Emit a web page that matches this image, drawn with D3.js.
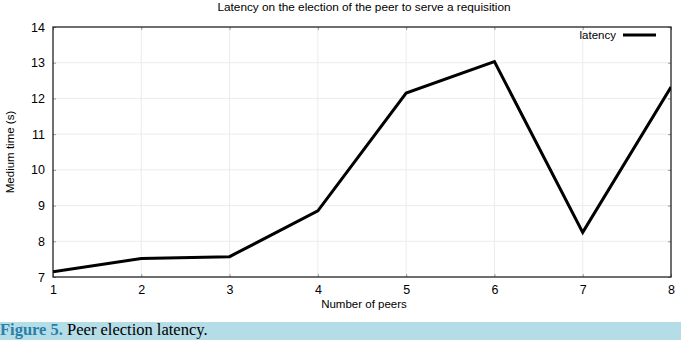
<!DOCTYPE html>
<html>
<head>
<meta charset="utf-8">
<script src="https://cdn.jsdelivr.net/npm/d3@7"></script>
<style>
  body { margin: 0; background: #fff; }
  svg { display: block; }
  .tick text { font-family: "Liberation Sans", Arial, sans-serif; font-size: 12.5px; fill: #000; }
</style>
</head>
<body>
<div id="chart"></div>
<script>
const peers = [1, 2, 3, 4, 5, 6, 7, 8];
const latency = [7.15, 7.52, 7.57, 8.85, 12.15, 13.03, 8.25, 12.32];
const yTicks = [7, 8, 9, 10, 11, 12, 13, 14];

const width = 681, height = 340;
const margin = {top: 27, right: 10, bottom: 63, left: 53};

const svg = d3.select("#chart").append("svg")
    .attr("width", width)
    .attr("height", height);

const x = d3.scaleLinear().domain([1, 8]).range([margin.left, width - margin.right]);
const y = d3.scaleLinear().domain([7, 14]).range([height - margin.bottom, margin.top]);

// title
svg.append("text")
    .attr("x", 364)
    .attr("y", 11)
    .attr("text-anchor", "middle")
    .style("font-family", "Liberation Sans, Arial, sans-serif")
    .style("font-size", "11.8px")
    .text("Latency on the election of the peer to serve a requisition");

// grid
const grid = svg.append("g");
grid.selectAll(".vgrid")
    .data(peers.slice(1, -1))
    .join("line")
    .attr("x1", d => x(d)).attr("x2", d => x(d))
    .attr("y1", y(7)).attr("y2", y(14))
    .attr("stroke", "#ececec")
    .attr("stroke-width", 1);
grid.selectAll(".hgrid")
    .data(yTicks.slice(1, -1))
    .join("line")
    .attr("x1", x(1)).attr("x2", x(8))
    .attr("y1", d => y(d)).attr("y2", d => y(d))
    .attr("stroke", "#ececec")
    .attr("stroke-width", 1);

// axes
const xAxis = svg.append("g")
    .attr("transform", `translate(0,${y(7)})`)
    .call(d3.axisBottom(x).tickValues(peers).tickFormat(d3.format("d")).tickSize(-3).tickPadding(8));
const yAxis = svg.append("g")
    .attr("transform", `translate(${x(1)},0)`)
    .call(d3.axisLeft(y).tickValues(yTicks).tickFormat(d3.format("d")).tickSize(-3).tickPadding(8));
[xAxis, yAxis].forEach(a => {
    a.select(".domain").remove();
    a.selectAll(".tick line").attr("stroke", "#999");
});

// right-side and top ticks
svg.append("g")
    .attr("transform", `translate(${x(8)},0)`)
    .call(d3.axisRight(y).tickValues(yTicks).tickSize(-3).tickFormat(""))
    .call(g => g.select(".domain").remove())
    .selectAll(".tick line").attr("stroke", "#999");
svg.append("g")
    .attr("transform", `translate(0,${y(14)})`)
    .call(d3.axisTop(x).tickValues(peers).tickSize(-3).tickFormat(""))
    .call(g => g.select(".domain").remove())
    .selectAll(".tick line").attr("stroke", "#999");

// frame
svg.append("rect")
    .attr("x", x(1)).attr("y", y(14))
    .attr("width", x(8) - x(1)).attr("height", y(7) - y(14))
    .attr("fill", "none")
    .attr("stroke", "#222")
    .attr("stroke-width", 1.3);

// line
svg.append("clipPath").attr("id", "clip")
    .append("rect")
    .attr("x", x(1)).attr("y", y(14))
    .attr("width", x(8) - x(1)).attr("height", y(7) - y(14));

const line = d3.line().x((d, i) => x(peers[i])).y(d => y(d));
svg.append("path")
    .datum(latency)
    .attr("clip-path", "url(#clip)")
    .attr("d", line)
    .attr("fill", "none")
    .attr("stroke", "#000")
    .attr("stroke-width", 3)
    .attr("stroke-linejoin", "miter");

// legend
svg.append("text")
    .attr("x", 616)
    .attr("y", 39)
    .attr("text-anchor", "end")
    .style("font-family", "Liberation Sans, Arial, sans-serif")
    .style("font-size", "11.5px")
    .text("latency");
svg.append("line")
    .attr("x1", 623).attr("x2", 656)
    .attr("y1", 35).attr("y2", 35)
    .attr("stroke", "#000")
    .attr("stroke-width", 3);

// axis labels
svg.append("text")
    .attr("x", 364)
    .attr("y", 308)
    .attr("text-anchor", "middle")
    .style("font-family", "Liberation Sans, Arial, sans-serif")
    .style("font-size", "11.5px")
    .text("Number of peers");
svg.append("text")
    .attr("transform", `translate(14,${(y(7) + y(14)) / 2}) rotate(-90)`)
    .attr("text-anchor", "middle")
    .style("font-family", "Liberation Sans, Arial, sans-serif")
    .style("font-size", "11.5px")
    .text("Medium time (s)");

// caption band
svg.append("rect")
    .attr("x", 0).attr("y", 322)
    .attr("width", width).attr("height", 18)
    .attr("fill", "#b5dde8");
const cap = svg.append("text")
    .attr("x", 0)
    .attr("y", 335)
    .style("font-family", "Liberation Serif, Times New Roman, serif")
    .style("font-size", "16.5px");
cap.append("tspan").attr("fill", "#2a7fa8").attr("font-weight", "bold").text("Figure 5. ");
cap.append("tspan").attr("fill", "#000").text("Peer election latency.");
</script>
</body>
</html>
